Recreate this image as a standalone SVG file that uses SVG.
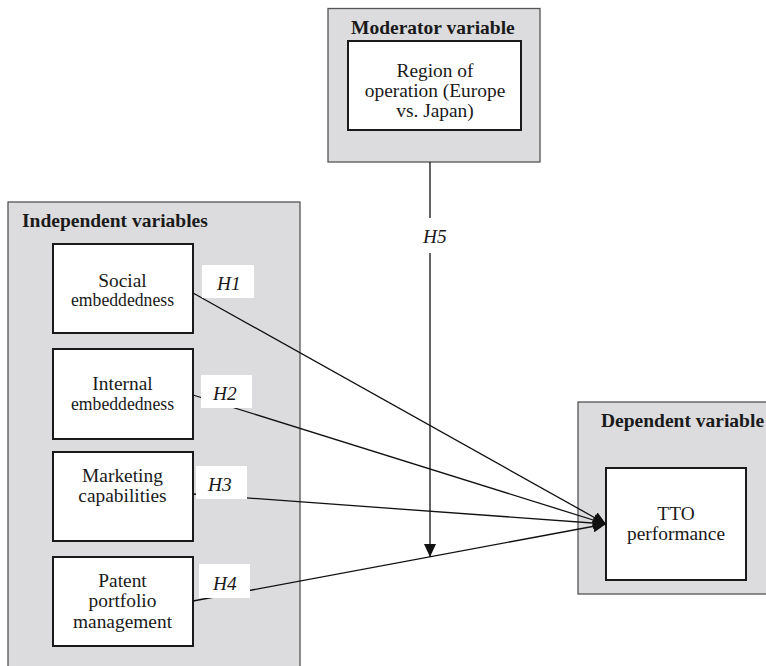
<svg xmlns="http://www.w3.org/2000/svg" width="766" height="666" viewBox="0 0 766 666">
<style>
.panel{fill:#dcdcde;stroke:#555;stroke-width:1.3}
.box{fill:#fff;stroke:#1a1a1a;stroke-width:2}
.t{font-family:"Liberation Serif","Times New Roman",serif;font-size:19.4px;fill:#1a1a1a;text-anchor:middle}
.h{font-family:"Liberation Serif","Times New Roman",serif;font-size:19.5px;font-weight:bold;fill:#1a1a1a}
.lab{font-family:"Liberation Serif","Times New Roman",serif;font-size:19.4px;font-style:italic;fill:#1a1a1a}
.lbg{fill:#fff}
.c{stroke:#111;stroke-width:1.3;fill:none}
</style>
<defs>
<marker id="ah" markerUnits="userSpaceOnUse" markerWidth="14" markerHeight="12" refX="13" refY="6" orient="auto">
<path d="M0,0 L13,6 L0,12 Z" fill="#111"/>
</marker>
</defs>
<rect width="766" height="666" fill="#fff"/>

<g id="moderator">
<rect class="panel" x="328" y="8.5" width="212" height="153.5"/>
<text class="h" x="351" y="34">Moderator variable</text>
<g id="region">
<rect class="box" x="348" y="41" width="173" height="89"/>
<text class="t" x="435" y="77">Region of</text>
<text class="t" x="435" y="97">operation (Europe</text>
<text class="t" x="435" y="117">vs. Japan)</text>
</g>
</g>

<g id="independent">
<rect class="panel" x="8" y="202" width="292" height="470"/>
<text class="h" x="22" y="227">Independent variables</text>
<g id="social">
<rect class="box" x="53" y="244" width="140" height="89"/>
<text class="t" x="122.5" y="287">Social</text>
<text class="t" x="122.5" y="306" textLength="103" lengthAdjust="spacingAndGlyphs">embeddedness</text>
</g>
<g id="internal">
<rect class="box" x="53" y="349" width="140" height="90"/>
<text class="t" x="122.5" y="390">Internal</text>
<text class="t" x="122.5" y="410" textLength="103" lengthAdjust="spacingAndGlyphs">embeddedness</text>
</g>
<g id="marketing">
<rect class="box" x="53" y="452" width="140" height="89"/>
<text class="t" x="122.5" y="482">Marketing</text>
<text class="t" x="122.5" y="502">capabilities</text>
</g>
<g id="patent">
<rect class="box" x="53" y="557" width="140" height="89"/>
<text class="t" x="122.5" y="587">Patent</text>
<text class="t" x="122.5" y="607">portfolio</text>
<text class="t" x="122.5" y="628">management</text>
</g>
</g>

<g id="dependent">
<rect class="panel" x="578" y="402" width="200" height="192"/>
<text class="h" x="601" y="427">Dependent variable</text>
<g id="tto">
<rect class="box" x="606" y="468" width="140" height="112"/>
<text class="t" x="676" y="520">TTO</text>
<text class="t" x="676" y="540">performance</text>
</g>
</g>

<g id="connectors">
<line class="c" x1="193" y1="293" x2="606" y2="524" marker-end="url(#ah)"/>
<line class="c" x1="193" y1="395" x2="606" y2="524" marker-end="url(#ah)"/>
<line class="c" x1="193" y1="494" x2="606" y2="524" marker-end="url(#ah)"/>
<line class="c" x1="193" y1="601" x2="606" y2="524" marker-end="url(#ah)"/>
<line class="c" x1="430" y1="162" x2="430" y2="218"/>
<line class="c" x1="430" y1="253" x2="430" y2="557" marker-end="url(#ah)"/>
</g>

<g id="labels">
<rect class="lbg" x="202" y="265" width="52" height="33"/>
<text class="lab" x="217" y="290">H1</text>
<rect class="lbg" x="201" y="375" width="51" height="33"/>
<text class="lab" x="213" y="400">H2</text>
<rect class="lbg" x="196" y="466" width="51" height="33"/>
<text class="lab" x="208" y="491">H3</text>
<rect class="lbg" x="199" y="564" width="51" height="34"/>
<text class="lab" x="213" y="590">H4</text>
<text class="lab" x="423" y="243">H5</text>
</g>
</svg>
